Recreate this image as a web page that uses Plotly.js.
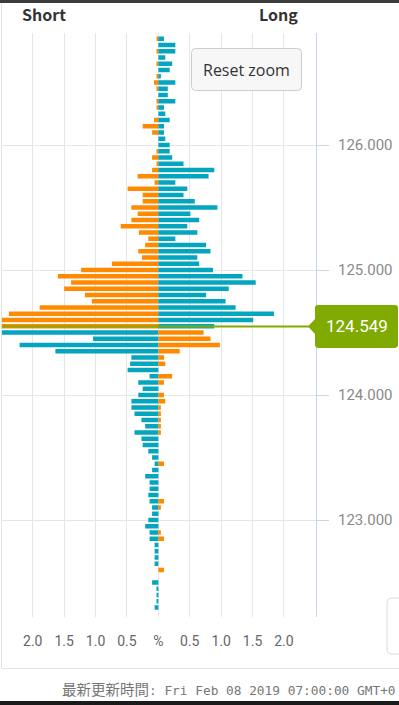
<!DOCTYPE html>
<html>
<head>
<meta charset="utf-8">
<script src="https://cdn.plot.ly/plotly-3.0.1.min.js"></script>
<style>
  html, body { margin: 0; padding: 0; background: #ffffff; }
  #chart { width: 399px; height: 705px; }
</style>
</head>
<body>
<div id="chart"></div>
<script>
// ---- data ----
const currentPrice = 124.549;
const prices = [
  126.85, 126.80, 126.75, 126.70, 126.65, 126.60, 126.55, 126.50, 126.45, 126.40,
  126.35, 126.30, 126.25, 126.20, 126.15, 126.10, 126.05, 126.00, 125.95, 125.90,
  125.85, 125.80, 125.75, 125.70, 125.65, 125.60, 125.55, 125.50, 125.45, 125.40,
  125.35, 125.30, 125.25, 125.20, 125.15, 125.10, 125.05, 125.00, 124.95, 124.90,
  124.85, 124.80, 124.75, 124.70, 124.65, 124.60, 124.55, 124.50, 124.45, 124.40,
  124.35, 124.30, 124.25, 124.20, 124.15, 124.10, 124.05, 124.00, 123.95, 123.90,
  123.85, 123.80, 123.75, 123.70, 123.65, 123.60, 123.55, 123.50, 123.45, 123.40,
  123.35, 123.30, 123.25, 123.20, 123.15, 123.10, 123.05, 123.00, 122.95, 122.90,
  122.85, 122.80, 122.75, 122.70, 122.65, 122.60, 122.55, 122.50, 122.45, 122.40,
  122.35, 122.30
];
const shortPct = [
  0.03, 0.00, 0.03, 0.00, 0.03, 0.00, 0.03, 0.07, 0.03, 0.00,
  0.03, 0.03, 0.00, 0.07, 0.25, 0.10, 0.00, 0.00, 0.03, 0.10,
  0.03, 0.10, 0.33, 0.06, 0.49, 0.25, 0.25, 0.43, 0.33, 0.43,
  0.60, 0.31, 0.16, 0.21, 0.32, 0.26, 0.74, 1.23, 1.60, 1.39,
  1.50, 1.17, 1.06, 1.89, 2.38, 2.50, 2.50, 2.50, 1.04, 2.21,
  1.64, 0.43, 0.45, 0.49, 0.14, 0.32, 0.25, 0.32, 0.43, 0.43,
  0.38, 0.27, 0.21, 0.38, 0.27, 0.25, 0.16, 0.10, 0.06, 0.10,
  0.21, 0.14, 0.14, 0.16, 0.14, 0.10, 0.10, 0.16, 0.21, 0.14,
  0.14, 0.06, 0.06, 0.06, 0.06, 0.00, 0.00, 0.10, 0.03, 0.03,
  0.03, 0.06
];
const longPct = [
  0.09, 0.27, 0.27, 0.11, 0.22, 0.18, 0.04, 0.27, 0.15, 0.15,
  0.27, 0.09, 0.11, 0.18, 0.09, 0.09, 0.11, 0.18, 0.18, 0.22,
  0.40, 0.89, 0.80, 0.27, 0.46, 0.40, 0.58, 0.94, 0.51, 0.65,
  0.46, 0.62, 0.27, 0.76, 0.83, 0.62, 0.65, 0.87, 1.34, 1.55,
  1.12, 0.76, 1.07, 1.23, 1.84, 1.51, 0.89, 0.72, 0.83, 0.98,
  0.34, 0.09, 0.11, 0.00, 0.22, 0.09, 0.00, 0.09, 0.11, 0.04,
  0.04, 0.04, 0.04, 0.04, 0.00, 0.00, 0.00, 0.00, 0.09, 0.00,
  0.00, 0.00, 0.00, 0.00, 0.09, 0.04, 0.00, 0.00, 0.00, 0.04,
  0.09, 0.00, 0.00, 0.00, 0.00, 0.09, 0.00, 0.00, 0.00, 0.00,
  0.00, 0.00
];
const xTickVals = [-2, -1.5, -1, -0.5, 0, 0.5, 1, 1.5, 2];
const xTickText = ['2.0', '1.5', '1.0', '0.5', '%', '0.5', '1.0', '1.5', '2.0'];
const yTickVals = [123, 124, 125, 126];
const yTickText = ['123.000', '124.000', '125.000', '126.000'];
const sideLabels = ['Short', 'Long'];
const footerPrefix = '最新更新時間';
const footerRest = ': Fri Feb 08 2019 07:00:00 GMT+0';
const resetLabel = 'Reset zoom';

// ---- style ----
const ORANGE = '#ff8a00';
const TEAL = '#04a5bf';
const GREEN = '#80aa00';
const W = 399, H = 705;
const M = { l: 2, r: 83, t: 33, b: 88 };
const xRange = [-2.49, 2.51];
const yRange = [122.224, 126.896];
const plotW = W - M.l - M.r, plotH = H - M.t - M.b;
const px2x = p => (p - M.l) / plotW;          // pixel -> paper x
const px2y = p => (H - M.b - p) / plotH;      // pixel -> paper y
const pxDy = (yRange[1] - yRange[0]) / plotH; // data units per pixel (y)

const shortColors = prices.map(p => p > currentPrice ? ORANGE : TEAL);
const longColors = prices.map(p => p > currentPrice ? TEAL : ORANGE);

const traces = [
  {
    type: 'bar', orientation: 'h', name: 'Short',
    y: prices, x: shortPct.map(v => -v), width: 0.036,
    marker: { color: shortColors, line: { width: 0 } },
    hoverinfo: 'skip'
  },
  {
    type: 'bar', orientation: 'h', name: 'Long',
    y: prices, x: longPct, width: 0.036,
    marker: { color: longColors, line: { width: 0 } },
    hoverinfo: 'skip'
  }
];

function roundRectPath(x0, y0, x1, y1, r) {
  // pixel coords -> paper path
  const X = px2x, Y = px2y;
  return `M ${X(x0 + r)} ${Y(y0)} L ${X(x1 - r)} ${Y(y0)} Q ${X(x1)} ${Y(y0)} ${X(x1)} ${Y(y0 + r)} ` +
         `L ${X(x1)} ${Y(y1 - r)} Q ${X(x1)} ${Y(y1)} ${X(x1 - r)} ${Y(y1)} ` +
         `L ${X(x0 + r)} ${Y(y1)} Q ${X(x0)} ${Y(y1)} ${X(x0)} ${Y(y1 - r)} ` +
         `L ${X(x0)} ${Y(y0 + r)} Q ${X(x0)} ${Y(y0)} ${X(x0 + r)} ${Y(y0)} Z`;
}

// price label callout (x in paper, y in data units)
function calloutPath() {
  const X = px2x;
  const c = currentPrice;
  const hUp = 21.5 * pxDy, hArrow = 7.5 * pxDy, r = 3, rd = r * pxDy;
  const xl = 315, xr = 398, xt = 308;
  return `M ${X(xl + r)} ${c + hUp} L ${X(xr - r)} ${c + hUp} Q ${X(xr)} ${c + hUp} ${X(xr)} ${c + hUp - rd} ` +
         `L ${X(xr)} ${c - hUp + rd} Q ${X(xr)} ${c - hUp} ${X(xr - r)} ${c - hUp} ` +
         `L ${X(xl + r)} ${c - hUp} Q ${X(xl)} ${c - hUp} ${X(xl)} ${c - hUp + rd} ` +
         `L ${X(xl)} ${c - hArrow} L ${X(xt)} ${c} L ${X(xl)} ${c + hArrow} ` +
         `L ${X(xl)} ${c + hUp - rd} Q ${X(xl)} ${c + hUp} ${X(xl + r)} ${c + hUp} Z`;
}

const shapes = [
  // top dark strip
  { type: 'rect', xref: 'paper', yref: 'paper', x0: px2x(-5), x1: px2x(W + 5), y0: px2y(0), y1: px2y(3),
    fillcolor: '#3c3c3c', line: { width: 0 }, layer: 'above' },
  // bottom dark strip
  { type: 'rect', xref: 'paper', yref: 'paper', x0: px2x(-5), x1: px2x(W + 5), y0: px2y(701), y1: px2y(H + 2),
    fillcolor: '#1a1a1a', line: { width: 0 }, layer: 'above' },
  // container left border
  { type: 'line', xref: 'paper', yref: 'paper', x0: px2x(1.5), x1: px2x(1.5), y0: px2y(3), y1: px2y(668.5),
    line: { color: '#e3e3e3', width: 1 }, layer: 'below' },
  // container bottom border
  { type: 'line', xref: 'paper', yref: 'paper', x0: px2x(1.5), x1: px2x(W + 5), y0: px2y(668.5), y1: px2y(668.5),
    line: { color: '#e3e3e3', width: 1 }, layer: 'below' },
  // cut-off card bottom right
  { type: 'path', xref: 'paper', yref: 'paper', path: roundRectPath(387, 598, 410, 654, 5),
    fillcolor: '#ffffff', line: { color: '#dadada', width: 1 }, layer: 'above' },
  // reset zoom button
  { type: 'path', xref: 'paper', yref: 'paper', path: roundRectPath(191.5, 48.5, 301.5, 90.5, 4),
    fillcolor: '#f7f7f7', line: { color: '#cccccc', width: 1 }, layer: 'above' },
  // current price line
  { type: 'line', xref: 'paper', yref: 'y', x0: 0, x1: px2x(309), y0: currentPrice, y1: currentPrice,
    line: { color: GREEN, width: 2 }, layer: 'above' },
  // current price callout
  { type: 'path', xref: 'paper', yref: 'y', path: calloutPath(),
    fillcolor: GREEN, line: { width: 0 }, layer: 'above' }
];

const annotations = [
  { xref: 'paper', yref: 'paper', x: px2x(44), y: px2y(14), text: '<b>' + sideLabels[0] + '</b>',
    showarrow: false, xanchor: 'center', yanchor: 'middle',
    font: { family: 'Noto Sans CJK JP, sans-serif', size: 16, color: '#333333' } },
  { xref: 'paper', yref: 'paper', x: px2x(278), y: px2y(14), text: '<b>' + sideLabels[1] + '</b>',
    showarrow: false, xanchor: 'center', yanchor: 'middle',
    font: { family: 'Noto Sans CJK JP, sans-serif', size: 16, color: '#333333' } },
  { xref: 'paper', yref: 'paper', x: px2x(246.5), y: px2y(69.5), text: resetLabel,
    showarrow: false, xanchor: 'center', yanchor: 'middle',
    font: { family: 'Open Sans, sans-serif', size: 16, color: '#333333' } },
  { xref: 'paper', yref: 'y', x: px2x(357), y: currentPrice, text: currentPrice.toFixed(3),
    showarrow: false, xanchor: 'center', yanchor: 'middle',
    font: { family: 'Roboto, sans-serif', size: 17, color: '#ffffff' } },
  { xref: 'paper', yref: 'paper', x: px2x(60), y: px2y(688),
    text: '<span style="font-family:Noto Sans CJK JP;font-size:14.5px">' + footerPrefix + '</span>' + footerRest,
    showarrow: false, xanchor: 'left', yanchor: 'middle',
    font: { family: 'DejaVu Sans Mono, monospace', size: 12.8, color: '#777777' } }
];

const layout = {
  width: W, height: H,
  margin: M,
  paper_bgcolor: 'rgba(0,0,0,0)', plot_bgcolor: '#ffffff',
  barmode: 'overlay',
  showlegend: false,
  hovermode: false,
  dragmode: false,
  xaxis: {
    range: xRange, fixedrange: true,
    tickvals: xTickVals, ticktext: xTickText,
    showgrid: true, gridcolor: '#e6e6e6', gridwidth: 1,
    zeroline: false, showline: false, ticks: '',
    ticklabelstandoff: 14,
    tickfont: { family: 'Roboto, sans-serif', size: 14, color: '#666666' }
  },
  yaxis: {
    range: yRange, fixedrange: true, side: 'right',
    tickvals: yTickVals, ticktext: yTickText,
    showgrid: true, gridcolor: '#e6e6e6', gridwidth: 1,
    zeroline: false,
    showline: true, linecolor: '#ccd6eb', linewidth: 1,
    ticks: 'outside', ticklen: 12, tickcolor: '#ccd6eb', tickwidth: 1,
    ticklabelstandoff: 6,
    tickfont: { family: 'Roboto, sans-serif', size: 15, color: '#8a8a8a' }
  },
  shapes: shapes,
  annotations: annotations
};

Plotly.newPlot('chart', traces, layout, { displayModeBar: false, staticPlot: true });
</script>
</body>
</html>
